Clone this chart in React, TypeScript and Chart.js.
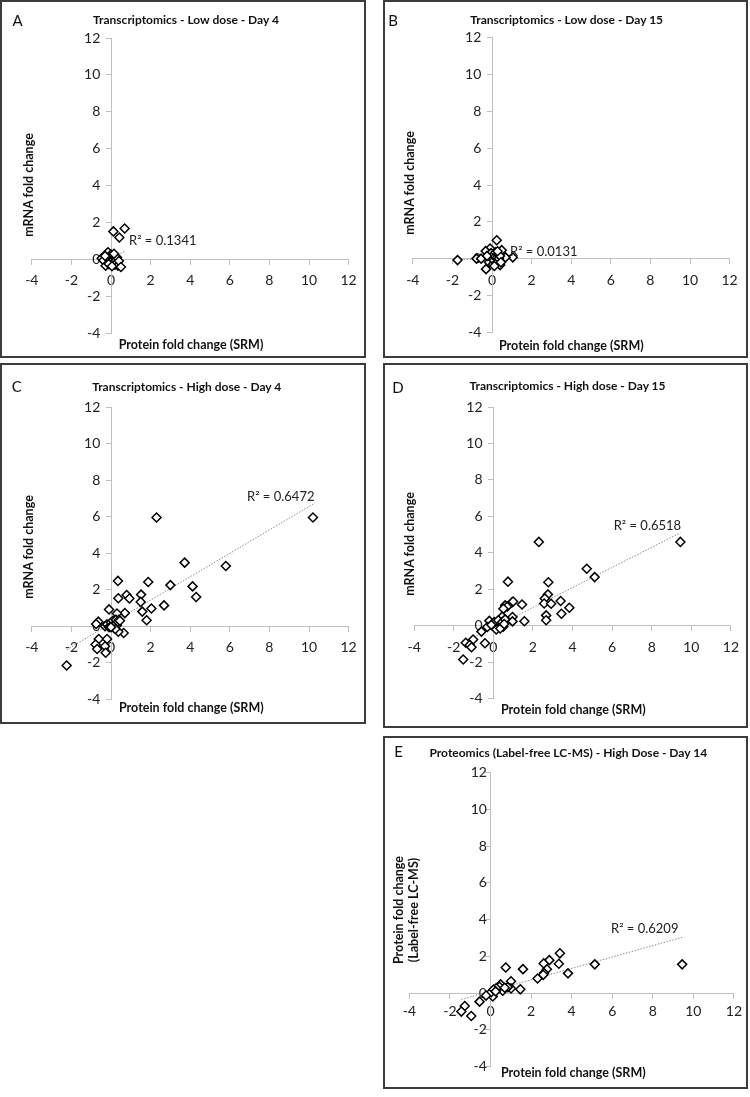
import React, { useEffect, useRef } from "react";
import { Chart, registerables } from "chart.js";

Chart.register(...registerables);

// ---------- axis definition ----------
const AXIS_MIN = -4;
const AXIS_MAX = 12;
const AXIS_STEP = 2;

type Pt = [number, number];

// ---------- data (x = protein fold change SRM, y = other fold change) ----------
const lowDoseDay4: Pt[] = [
  [0.12, 1.51], [0.69, 1.67], [0.42, 1.18],
  [-0.47, 0.05], [-0.38, -0.05], [-0.27, -0.35], [-0.22, 0.3], [-0.15, 0.38], [-0.1, 0.12],
  [-0.05, -0.02], [0.0, 0.25], [0.02, -0.12], [0.05, 0.08], [0.08, -0.25], [0.1, 0.2],
  [0.12, 0.0], [0.15, -0.15], [0.18, 0.1], [0.2, -0.3], [0.22, 0.05], [0.25, -0.05],
  [0.28, -0.2], [0.3, 0.1], [0.35, -0.35], [0.4, -0.1], [0.5, -0.42], [-0.12, -0.25],
  [-0.3, 0.18], [0.05, -0.38], [0.15, 0.3],
];

const lowDoseDay15: Pt[] = [
  [-1.74, -0.08], [-0.78, 0.0], [-0.55, 0.0], [0.24, 1.0], [-0.3, -0.57], [1.05, 0.07],
  [0.68, 0.07], [0.41, -0.35], [-0.1, 0.55], [-0.32, 0.41], [0.49, 0.46],
  [-0.2, 0.1], [-0.15, -0.2], [-0.05, 0.3], [0.0, 0.0], [0.05, -0.3], [0.08, 0.2],
  [0.1, -0.1], [0.15, 0.1], [0.18, 0.35], [0.2, -0.25], [0.25, 0.05], [0.3, -0.15],
  [0.32, 0.25], [0.35, 0.0], [0.4, 0.15], [0.45, -0.2], [-0.25, 0.15], [0.12, -0.4], [0.28, 0.4],
];

const highDoseDay4: Pt[] = [
  [10.2, 5.95], [2.3, 5.95], [3.72, 3.48], [5.8, 3.3], [0.35, 2.48], [1.88, 2.42], [3.0, 2.25],
  [4.12, 2.18], [4.3, 1.6], [0.79, 1.71], [0.93, 1.52], [0.37, 1.53], [1.52, 1.73], [1.5, 1.33],
  [2.68, 1.14], [2.04, 0.97], [1.58, 0.8], [1.8, 0.33], [0.7, 0.72], [0.3, 0.7], [-0.1, 0.92],
  [0.64, -0.37], [0.37, -0.3], [-0.64, 0.25], [-0.75, 0.12],
  [-0.62, -0.7], [-0.2, -0.7], [-0.78, -1.0], [-0.7, -1.25], [-0.3, -1.1], [-0.27, -1.45],
  [-2.24, -2.15],
  [-0.3, 0.0], [-0.2, 0.1], [-0.1, -0.05], [0.0, 0.2], [0.05, 0.05], [0.1, 0.3], [0.15, -0.1],
  [0.2, 0.15], [0.25, 0.35], [0.3, 0.05], [0.35, 0.25], [0.4, 0.35], [0.1, 0.0], [0.22, -0.15],
  [0.45, 0.3], [0.0, -0.05],
];

const highDoseDay15: Pt[] = [
  [9.45, 4.6], [2.3, 4.6], [4.72, 3.13], [5.12, 2.67], [2.78, 2.39], [0.74, 2.42], [2.76, 1.72],
  [2.6, 1.5], [2.57, 1.22], [2.92, 1.21], [3.4, 1.36], [3.84, 0.99], [3.44, 0.66], [2.67, 0.57],
  [2.67, 0.3], [1.45, 1.17], [1.57, 0.25], [0.94, 1.28], [1.0, 1.33], [0.6, 1.12], [0.7, 1.05],
  [0.51, 0.93], [0.97, 0.48], [0.97, 0.24], [0.45, 0.5], [0.31, 0.24], [-0.2, 0.27],
  [-0.3, -0.07], [-0.6, -0.32], [-1.02, -0.75], [-0.42, -0.96], [-1.39, -0.93], [-1.19, -1.05],
  [-1.1, -1.18], [-1.52, -1.85],
  [0.0, 0.0], [0.1, 0.1], [0.2, -0.1], [0.3, 0.15], [0.4, 0.05], [0.5, -0.05], [0.15, -0.2],
  [0.05, 0.2], [0.25, 0.3], [0.35, -0.15], [0.45, 0.2], [-0.1, 0.05], [0.6, 0.35], [0.55, 0.1],
];

const labelFreeDay14: Pt[] = [
  [9.45, 1.57], [5.14, 1.57], [3.82, 1.08], [3.42, 2.17], [3.37, 1.6], [2.9, 1.8], [2.78, 1.3],
  [2.62, 1.62], [2.64, 1.1], [2.6, 1.0], [2.32, 0.8], [1.6, 1.31], [0.75, 1.4], [1.47, 0.21],
  [1.01, 0.65], [1.01, 0.26], [0.85, 0.33], [0.5, 0.48], [0.6, 0.13], [0.2, 0.1], [0.36, 0.26],
  [0.44, 0.35], [0.28, 0.27], [0.11, -0.18], [0.03, 0.05], [-0.22, -0.13], [-0.54, -0.46],
  [-1.27, -0.7], [-1.44, -1.0], [-0.95, -1.24], [0.15, 0.2], [0.25, 0.1], [0.7, 0.3],
];

// ---------- linear trendlines (x range, slope, intercept) ----------
const trendXRange: [number, number][] = [
  [-0.47, 0.69], [-1.74, 1.05], [-2.24, 10.2], [-1.52, 9.45], [-1.44, 9.45],
];
const trendSlope = [0.55, 0.06, 0.64, 0.55, 0.31];
const trendIntercept = [0.05, 0.03, 0.15, -0.1, 0.11];

// ---------- texts ----------
const r2Texts = ["R\u00B2 = 0.1341", "R\u00B2 = 0.0131", "R\u00B2 = 0.6472", "R\u00B2 = 0.6518", "R\u00B2 = 0.6209"];
const r2Anchor: Pt[] = [[0.91, 1.0], [0.91, 0.37], [6.87, 7.07], [6.08, 5.51], [5.94, 3.48]];
const panelLetters = ["A", "B", "C", "D", "E"];
const panelTitles = [
  "Transcriptomics - Low dose - Day 4",
  "Transcriptomics - Low dose - Day 15",
  "Transcriptomics - High dose - Day 4",
  "Transcriptomics - High dose - Day 15",
  "Proteomics (Label-free LC-MS) - High Dose - Day 14",
];
const xTitle = "Protein fold change (SRM)";
const yTitles: string[][] = [
  ["mRNA fold change"],
  ["mRNA fold change"],
  ["mRNA fold change"],
  ["mRNA fold change"],
  ["Protein fold change", "(Label-free LC-MS)"],
];
const panelData: Pt[][] = [lowDoseDay4, lowDoseDay15, highDoseDay4, highDoseDay15, labelFreeDay14];

// ---------- layout (pixels) ----------
type Layout = {
  box: [number, number, number, number]; // left, top, right, bottom
  area: [number, number, number, number];
  letter: [number, number];
  title: [number, number];
  xt: [number, number];
  yt: [number, number];
  ySpaces: number;
  xPad: number;
};
const layouts: Layout[] = [
  { box: [1, 1, 365, 357], area: [31.8, 38, 348.6, 333], letter: [17.5, 20], title: [186, 19], xt: [191, 344], yt: [28, 185], ySpaces: 3, xPad: 8 },
  { box: [384, 1, 747, 357], area: [412.8, 37.7, 729.6, 332.3], letter: [393, 20], title: [566.7, 19], xt: [571.3, 345], yt: [408.5, 183], ySpaces: 3, xPad: 8 },
  { box: [1, 364, 365, 723], area: [31.8, 407, 348.6, 699.3], letter: [16.7, 386], title: [186.7, 385.5], xt: [191.3, 707], yt: [28, 547], ySpaces: 3, xPad: 8 },
  { box: [384, 364, 747, 727], area: [414.1, 407, 730.9, 698.7], letter: [398, 387], title: [567.5, 385], xt: [573.3, 708.5], yt: [408.5, 544], ySpaces: 3, xPad: 8 },
  { box: [384, 737, 747, 1088], area: [409.4, 772.7, 735.8, 1066.7], letter: [398.5, 751], title: [568.3, 751.5], xt: [573.3, 1071.5], yt: [406, 910], ySpaces: 1, xPad: 5 },
];

const FONT = "Lato, 'Open Sans', sans-serif";
const AXIS_COLOR = "#bfbfbf";
const TEXT_COLOR = "#222222";

function Panel({ idx }: { idx: number }) {
  const ref = useRef<HTMLCanvasElement | null>(null);
  const L = layouts[idx];
  const [bl, bt, br, bb] = L.box;
  const w = br - bl;
  const h = bb - bt;

  useEffect(() => {
    const canvas = ref.current;
    if (!canvas) return;
    const [al, at, ar, ab] = L.area;
    const pts = panelData[idx].map(([x, y]) => ({ x, y }));
    const [tx0, tx1] = trendXRange[idx];
    const trend = [tx0, tx1].map((x) => ({ x, y: trendSlope[idx] * x + trendIntercept[idx] }));
    const anchor = r2Anchor[idx];
    const text = r2Texts[idx];
    const pad = " ".repeat(L.ySpaces);

    const r2Plugin = {
      id: "r2label" + idx,
      afterDatasetsDraw(chart: any) {
        const { ctx, scales } = chart;
        ctx.save();
        ctx.font = "13px " + FONT;
        ctx.fillStyle = TEXT_COLOR;
        ctx.textAlign = "left";
        ctx.textBaseline = "middle";
        ctx.fillText(text, scales.x.getPixelForValue(anchor[0]), scales.y.getPixelForValue(anchor[1]));
        ctx.restore();
      },
    };

    const chart = new Chart(canvas, {
      type: "scatter",
      data: {
        datasets: [
          {
            data: pts,
            pointStyle: "rectRot",
            pointRadius: 4.5,
            pointBackgroundColor: "#ffffff",
            pointBorderColor: "#000000",
            pointBorderWidth: 1.5,
            showLine: false,
            order: 0,
          },
          {
            data: trend,
            showLine: true,
            borderColor: "#8c8c8c",
            borderWidth: 1,
            borderDash: [1.5, 1.5],
            pointRadius: 0,
            order: 1,
          },
        ],
      },
      options: {
        responsive: false,
        animation: false,
        events: [],
        layout: { padding: { left: al - bl, top: at - bt, right: br - ar, bottom: bb - ab } },
        plugins: { legend: { display: false }, tooltip: { enabled: false } },
        scales: {
          x: {
            type: "linear",
            position: { y: 0 } as any,
            min: AXIS_MIN,
            max: AXIS_MAX,
            ticks: { stepSize: AXIS_STEP, color: TEXT_COLOR, font: { family: FONT, size: 14 }, padding: L.xPad, maxRotation: 0, autoSkip: false },
            grid: { drawOnChartArea: false, drawTicks: true, tickLength: 5, color: AXIS_COLOR },
            border: { display: true, color: AXIS_COLOR, width: 1 },
          },
          y: {
            type: "linear",
            position: { x: 0 } as any,
            min: AXIS_MIN,
            max: AXIS_MAX,
            ticks: {
              stepSize: AXIS_STEP,
              color: TEXT_COLOR,
              font: { family: FONT, size: 14 },
              autoSkip: false,
              callback: (v: any) => String(v) + pad,
            },
            grid: { drawOnChartArea: false, drawTicks: true, tickLength: 5, color: AXIS_COLOR },
            border: { display: true, color: AXIS_COLOR, width: 1 },
          },
        },
      },
      plugins: [r2Plugin],
    } as any);
    return () => chart.destroy();
  }, [idx]);

  const center = (x: number, y: number): React.CSSProperties => ({
    position: "absolute",
    left: x,
    top: y,
    transform: "translate(-50%, -50%)",
    whiteSpace: "nowrap",
    fontFamily: FONT,
    color: "#111",
  });

  return (
    <>
      <canvas
        ref={ref}
        width={w}
        height={h}
        style={{ position: "absolute", left: bl, top: bt, width: w, height: h }}
      />
      <div
        style={{
          position: "absolute",
          left: bl - 1,
          top: bt - 1,
          width: w + 2,
          height: h + 2,
          border: "2px solid #3c3c3c",
          boxSizing: "border-box",
          pointerEvents: "none",
        }}
      />
      <div style={{ ...center(L.letter[0], L.letter[1]), fontSize: 15 }}>{panelLetters[idx]}</div>
      <div style={{ ...center(L.title[0], L.title[1]), fontSize: 12, fontWeight: 700 }}>{panelTitles[idx]}</div>
      <div style={{ ...center(L.xt[0], L.xt[1]), fontSize: 12.5, fontWeight: 700 }}>{xTitle}</div>
      <div
        style={{
          ...center(L.yt[0], L.yt[1]),
          transform: "translate(-50%, -50%) rotate(-90deg)",
          fontSize: 12.5,
          fontWeight: 700,
          textAlign: "center",
          lineHeight: "15px",
        }}
      >
        {yTitles[idx].map((t, i) => (
          <div key={i}>{t}</div>
        ))}
      </div>
    </>
  );
}

export default function App() {
  return (
    <div
      style={{
        position: "absolute",
        left: 0,
        top: 0,
        width: 750,
        height: 1097,
        background: "#ffffff",
        overflow: "hidden",
      }}
    >
      {panelData.map((_, i) => (
        <Panel key={i} idx={i} />
      ))}
    </div>
  );
}
